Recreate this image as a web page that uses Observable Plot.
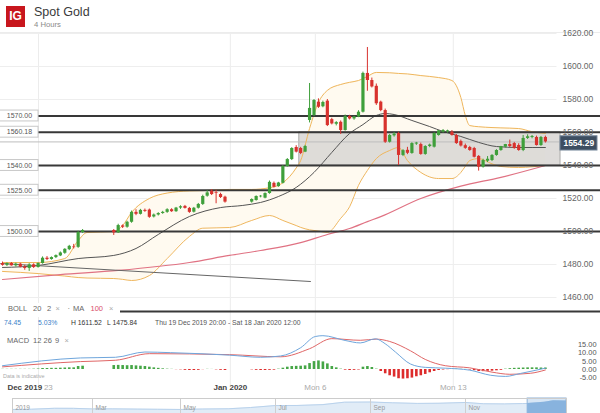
<!DOCTYPE html>
<html><head><meta charset="utf-8">
<script src="https://cdn.jsdelivr.net/npm/d3@7"></script>
<script src="https://cdn.jsdelivr.net/npm/@observablehq/plot@0.6"></script>
<style>
html,body{margin:0;padding:0;background:#fff;}
#root{position:relative;width:600px;height:413px;overflow:hidden;font-family:"Liberation Sans",Arial,sans-serif;}
#root svg{position:absolute;left:0;background:transparent;}
.t{position:absolute;white-space:nowrap;line-height:1;}
</style></head>
<body><div id="root"></div>
<script>
// ---------- DATA ----------
// trading sessions as 4-hour slot ranges (gaps = holidays)
const sessions = [[0,18],[25,50],[56,122]];
const open = [1480.5,1479.5,1480.6,1479.2,1480.2,1478.4,1477.6,1479.8,1478.2,1480.6,1483.8,1483,1484.2,1485.2,1486.8,1489,1490.6,1490.4,1499.4,
 1500.6,1499.2,1503.4,1502.6,1505.6,1511.6,1510.4,1512.8,1513,1508.8,1510,1510.9,1511.6,1513.2,1512,1514.2,1515.2,1514,1511.7,1514.1,1516.4,1521.4,1524.4,1523.6,1522.4,1520.8,
 1517.8,1518.8,1521,1520.2,1523,1529.2,1527.2,1529.2,1539.4,1543.6,1550.9,1550.3,1548.1,1567.3,1570.3,1578.4,1575.6,1579,1567.8,1565,1566.2,1561.2,1569.7,1568.2,1569.4,1572.3,1595.8,1591.5,1588,1578.4,1573.3,1554.1,1558,1559.4,1546.1,1549.2,1547.3,1553,1552.7,1546.7,1551.5,1551.1,1558.2,1560.2,1560.4,1560.2,1558.2,1554.5,1552,1550.9,1550.3,1545.5,1539,1542.6,1543,1546.1,1549.1,1551.1,1552.7,1553.3,1552.1,1549.1,1556.4,1557,1557,1552.1,1557];
const high = [1481.5,1481,1481.2,1480.8,1480.8,1479.5,1480.5,1480.4,1481,1484.6,1484.8,1484.6,1485.8,1487.6,1489.6,1491.6,1492.2,1500.2,1501.2,
 1501.2,1504.4,1504,1506.2,1512.4,1513.2,1513.4,1513.6,1513.6,1510.6,1511.4,1512.2,1513.8,1513.8,1514.6,1515.6,1515.8,1514.6,1514.6,1517,1522,1524.8,1525.4,1525,1523.2,1521.4,
 1519.8,1521.6,1521.8,1523.4,1530.6,1530,1529.8,1540,1544.2,1550.8,1552,1551,1552.2,1589.7,1580,1580.4,1579,1580,1568.6,1566.6,1567,1570.6,1570.4,1569.8,1573.2,1596.6,1611.52,1593,1589.4,1579,1574.2,1558.8,1560,1560.2,1549.6,1551,1553.8,1554,1553.6,1552,1553,1559.8,1561.2,1561.8,1561.4,1561.2,1558.8,1555.4,1553,1551.6,1551,1546,1543.8,1545.4,1546.6,1549.6,1551.6,1552.8,1555.4,1554,1553.2,1558.2,1558.6,1558.2,1557.8,1557.6,1557.8];
const low = [1479,1478.8,1479,1478.5,1478,1476.5,1475.84,1477.6,1477.8,1480.2,1482.4,1482.6,1483.6,1484.8,1486.2,1488.4,1489.4,1489.8,1498.8,
 1497.6,1498.8,1501.8,1502,1505,1509.6,1510,1511.6,1508,1508.2,1509.4,1510.4,1511,1511.6,1511.6,1513.4,1513.6,1511,1511.2,1513.6,1515.8,1520.8,1521.8,1516.8,1520,1517.2,
 1517.2,1518.4,1520.4,1519.8,1522.6,1526.4,1526.8,1528.8,1539,1543,1547.6,1546.6,1547.8,1565.8,1569.6,1574.6,1575,1563.6,1564.6,1564,1558.8,1560.8,1567.6,1567.4,1569,1571.8,1585,1587,1576.4,1572.6,1553.4,1553.6,1557.2,1540,1545.4,1546.6,1546.8,1552.2,1546.2,1546.2,1550.8,1550.6,1557.8,1559.6,1559.6,1557.8,1552.8,1551.2,1549.8,1548.6,1544.6,1536.6,1538.4,1541.8,1542.4,1545.6,1548.6,1550.6,1550.8,1549.8,1548.6,1548.4,1555.8,1556.2,1551.8,1551.6,1553.6];
const close = [1479.5,1480.6,1479.2,1480.2,1478.4,1477.6,1479.8,1478.2,1480.6,1483.8,1483,1484.2,1485.4,1487,1489.2,1491,1490.2,1499.4,1500.6,
 1499.2,1503.6,1502.6,1505.6,1511.6,1510.4,1512.8,1512.2,1508.6,1510,1510.9,1511.6,1513.2,1512,1514.2,1515,1514,1511.6,1514.1,1516.4,1521.2,1523.4,1522.4,1523.2,1520.6,1517.8,
 1519.4,1521.2,1521.4,1523,1529.8,1526.8,1529.4,1539.4,1543.6,1550.3,1548.1,1547.3,1551.5,1574.6,1579.4,1575.3,1578.2,1564.2,1565.2,1566,1561.2,1569.7,1568.2,1569.4,1572.3,1595.8,1591.5,1587.6,1577.4,1573.3,1554.1,1558.2,1559,1546.1,1549,1547.4,1553.3,1553.6,1546.7,1551.5,1552.4,1559.4,1561,1561.2,1561,1558.2,1553.3,1551.8,1550.4,1549.1,1545,1539,1543,1543.8,1546.1,1549.1,1551.5,1552.7,1551.5,1550.3,1549.1,1556.4,1557.4,1557.6,1552.1,1557,1554.29];
const macdHist = [0.1,0.1,0.1,0.1,0.1,0.1,0.1,0.2,0.3,0.6,0.6,0.7,0.7,0.8,0.9,1.0,1.0,1.8,2.0,
 2.4,2.5,2.4,2.3,2.4,2.2,2.0,1.8,1.4,1.0,0.7,0.4,0.2,0.1,-0.1,-0.2,-0.5,-0.6,-0.6,-0.5,-0.1,0.1,0.05,-0.2,-0.5,-0.6,
 -0.2,-0.5,-0.6,-0.6,-0.5,-0.4,0.2,0.8,1.4,1.8,1.9,2.0,2.2,3.6,4.8,5.2,4.6,3.4,1.8,1.0,0.2,-0.4,-0.6,-0.5,-0.3,1.4,1.8,1.2,0.2,-1.2,-2.6,-3.8,-4.6,-5.6,-5.8,-5.6,-5.2,-4.4,-3.8,-3.0,-2.0,-1.2,-0.6,-0.3,-0.1,0.1,0.2,0.1,0.05,-0.3,-0.7,-1.2,-1.3,-1.1,-1.0,-0.8,-0.5,0.2,0.5,0.7,0.8,0.9,1.0,1.0,1.0,0.9,0.9];

// Bollinger (20,2)
const bbSlot  = [0,8,14,17,19,25,27,29,33,37,42,45,51,56,60,63,66,67,69,71,73,76,78,80,82,84,87,89,91,94,98,101,103,104,105,107,110,112,116,119,122];
const bbUpper = [1481.2,1481.2,1483.6,1494.5,1499.4,1500,1503.6,1511.5,1520,1523.3,1524.6,1524.8,1525.5,1525.5,1526.5,1529.5,1538.5,1543,1562.4,1578.2,1585.5,1589.1,1590.4,1591.5,1594,1596.4,1596.2,1595.8,1595.5,1594.5,1593.3,1591.5,1581.2,1570.3,1564.2,1563.5,1563,1562.8,1562.4,1560.5,1559.4];
const bbLower = [1475.8,1474.5,1473,1472.1,1471.8,1471.5,1471,1470.3,1473.3,1483.6,1497,1502,1502.4,1506.7,1509.7,1506.7,1503.6,1502.5,1501,1500.3,1499.4,1508,1515,1528,1537,1544.2,1549.1,1550.9,1543,1535.8,1532.1,1532.1,1535.8,1539.5,1543,1544.2,1541,1539.4,1538.8,1539.2,1540];
const midSlot = [0,8,17,25,30,35,42,49,54,58,62,66,70,74,78,81,84,86,88,92,96,99,103,107,111,116,122];
const bbMid   = [1478.2,1479.4,1483.6,1485.5,1489.7,1498.2,1509.1,1514.5,1515.8,1517.6,1521.2,1526.7,1535.8,1547.9,1559.4,1564.8,1570.3,1571.5,1570.9,1567.3,1563.6,1560.6,1557.6,1554,1551.5,1550.9,1550.9];
// MA 100
const maSlot = [0,13,26,42,51,58,67,73,78,82,85,94,103,112,122];
const ma100  = [1470.9,1473.9,1476.4,1481.2,1485.5,1488.5,1493.3,1498.2,1501.8,1506,1509,1520,1527.5,1532.8,1540];
// drawn trend line
const trendSlot = [-0.4, 69.2];
const trendPrice = [1480.6, 1469.7];
// horizontal drawings
const levels = [1570, 1560.18, 1540, 1525, 1500];
const bottomLevel = 1451.5;
const zoneLow = 1540, zoneHigh = 1560.18;
const lastPrice = 1554.29;
const priceTicks = [1460,1480,1500,1520,1540,1560,1580,1600,1620];
// time axis
const timeGrid = [8.1, 51.2, 70.3, 101.3];
const timeLabelSlot = [1.1, 10.3, 51.2, 70.3, 101.3];
const timeLabelText = ["Dec 2019","23","Jan 2020","Mon 6","Mon 13"];
const timeLabelMajor = [true,false,true,false,false];
// MACD (12,26,9)
const macdSlot = [0,17.5,25.4,32,37.8,51,58,62.5,67,70.3,72,77,80.4,83.8,86,88.3,91.7,95,99.5,105,109.7,113,116.4,122];
const macdLine = [2.3,7,7.4,10.6,10.2,8.7,7.4,8.2,13.2,20,20.5,17.6,16.1,18.6,15.6,10.6,3.3,1.3,0.8,-0.4,-3.5,-4.2,-2.4,0.8];
const sigSlot = [0,17.5,25.4,33,51,62.5,69,74,80.4,84,87,91.7,95,99.5,105,110,114,118.6,122];
const sigLine = [1.6,4.8,5.6,9.6,9,7.7,12.6,18.7,17.7,18.4,17,11.3,6.1,2.3,1,-1.6,-2.9,-2.3,-0.3];
const macdTicks = [15,10,5,0,-5];
// navigator (2019 history)
const navDate = ["2019-01-01","2019-01-15","2019-02-01","2019-02-15","2019-03-01","2019-03-15","2019-04-01","2019-04-15","2019-05-01","2019-05-15","2019-06-01","2019-06-15","2019-07-01","2019-07-15","2019-08-01","2019-08-15","2019-09-01","2019-09-15","2019-10-01","2019-10-15","2019-11-01","2019-11-15","2019-12-01","2019-12-15","2019-12-19","2020-01-01","2020-01-08","2020-01-18"];
const navPrice = [1282,1290,1320,1318,1300,1302,1293,1288,1282,1296,1305,1345,1410,1412,1440,1520,1525,1500,1480,1485,1510,1468,1463,1475,1478,1520,1570,1556];
const navMonthDate = ["2019-01-01","2019-03-01","2019-05-01","2019-07-01","2019-09-01","2019-11-01"];
const navMonthText = ["2019","Mar","May","Jul","Sep","Nov"];
const navWindow = ["2019-12-19","2020-01-18"];

// ---------- LAYOUT / STYLE ----------
const FONT = '"Liberation Sans", Arial, sans-serif';
const GREEN = "#3f9f3b", RED = "#d8322e";
const X = {domain:[0,122], range:[2,544.9]};
const L = {xLo:-1, gridEnd:124.6, labelBoxEnd:8.1, labelCenter:3.8, zoneStart:66.7, zoneEnd:125.4, tagStart:125.4, tagEnd:133.7, tagCenter:129.5};

const slot = sessions.flatMap(([a,b]) => d3.range(a, b+1));
const candles = slot.map((s,i) => ({s, o:open[i], h:high[i], l:low[i], c:close[i], m:macdHist[i]}));
const bb = bbSlot.map((s,i) => ({s, hi:bbUpper[i], lo:bbLower[i]}));
const mid = midSlot.map((s,i) => ({s, v:bbMid[i]}));
const ma = maSlot.map((s,i) => ({s, v:ma100[i]}));
const trend = trendSlot.map((s,i) => ({s, v:trendPrice[i]}));
const macd = macdSlot.map((s,i) => ({s, v:macdLine[i]}));
const sig = sigSlot.map((s,i) => ({s, v:sigLine[i]}));
const tl = timeLabelSlot.map((s,i) => ({s, t:timeLabelText[i], major:timeLabelMajor[i]}));
const nav = navDate.map((d,i) => ({d:new Date(d), p:navPrice[i]}));
const navM = navMonthDate.map((d,i) => ({d:new Date(d), t:navMonthText[i]}));
const win = {a:new Date(navWindow[0]), b:new Date(navWindow[1])};
const col = d => d.c >= d.o ? GREEN : RED;

const root = document.getElementById("root");
function put(svg, top){ svg.style.top = top + "px"; root.appendChild(svg); }
function txt(s, left, top, size, color, extra){
  const e = document.createElement("div"); e.className = "t"; e.textContent = s;
  Object.assign(e.style, {left:left+"px", top:top+"px", fontSize:size+"px", color}, extra||{});
  root.appendChild(e); return e;
}

// header separator (drawn first, under the panes)
const hdr = document.createElement("div");
Object.assign(hdr.style, {position:"absolute", left:"0", top:"0", width:"600px", height:"32px", borderBottom:"1px solid #ececec"});
root.appendChild(hdr);

// ---------- PRICE PANE ----------
put(Plot.plot({
  width:600, height:330, marginLeft:0, marginRight:0, marginTop:32, marginBottom:0,
  style:{fontFamily:FONT, background:"transparent"},
  x:{...X, axis:null},
  y:{domain:[1460,1620], range:[297,33]},
  marks:[
    Plot.ruleX(timeGrid, {stroke:"#ececec"}),
    Plot.ruleY(priceTicks, {x1:L.xLo, x2:L.gridEnd, stroke:"#eeeeee"}),
    Plot.areaY(bb, {x:"s", y1:"lo", y2:"hi", fill:"#fffaf0", curve:"monotone-x"}),
    Plot.rect([0], {x1:L.zoneStart, x2:L.zoneEnd, y1:zoneLow, y2:zoneHigh, fill:"#d8d6d4", fillOpacity:0.85, stroke:"#9a9a9a", strokeWidth:0.8}),
    Plot.ruleY([lastPrice], {x1:L.xLo, x2:L.zoneEnd, stroke:"#bdbdbd", strokeWidth:1}),
    Plot.line(bb, {x:"s", y:"hi", stroke:"#efb65c", strokeWidth:1, curve:"monotone-x"}),
    Plot.line(bb, {x:"s", y:"lo", stroke:"#efb65c", strokeWidth:1, curve:"monotone-x"}),
    Plot.line(ma, {x:"s", y:"v", stroke:"#e07283", strokeWidth:1.2, curve:"monotone-x"}),
    Plot.line(mid, {x:"s", y:"v", stroke:"#555", strokeWidth:1, curve:"monotone-x"}),
    Plot.line(trend, {x:"s", y:"v", stroke:"#666", strokeWidth:1}),
    Plot.ruleY([...levels, bottomLevel], {stroke:"#383838", strokeWidth:2}),
    Plot.ruleX(candles, {x:"s", y1:"l", y2:"h", stroke:col, strokeWidth:1}),
    Plot.ruleX(candles, {x:"s", y1:"o", y2:"c", stroke:col, strokeWidth:3.2}),
    Plot.rect(levels, {x1:L.xLo, x2:L.labelBoxEnd, y1:d=>d-3.3, y2:d=>d+3.3, fill:"white", stroke:"#c8c8c8"}),
    Plot.text(levels, {x:L.labelCenter, y:d=>d, text:d=>d.toFixed(2), fontSize:7, fill:"#555"}),
    Plot.rect([lastPrice], {x1:L.tagStart, x2:L.tagEnd, y1:d=>d-5.2, y2:d=>d+3.4, fill:"#3d4e61", stroke:"#6f8195"}),
    Plot.text([lastPrice], {x:L.tagCenter, y:d=>d-0.9, text:d=>d.toFixed(2), fontSize:8.5, fontWeight:"bold", fill:"white"}),
    Plot.axisY(priceTicks, {anchor:"right", tickSize:0, tickPadding:0, dx:-38, textAnchor:"start", tickFormat:d=>d.toFixed(2), fontSize:8.5, fill:"#666"})
  ]
}), 0);

// ---------- MACD PANE ----------
put(Plot.plot({
  width:600, height:56, marginLeft:0, marginRight:0, marginTop:0, marginBottom:0,
  style:{fontFamily:FONT, background:"transparent"},
  x:{...X, axis:null},
  y:{domain:[-5,15], range:[47.25,14.25]},
  marks:[
    Plot.ruleX(timeGrid, {stroke:"#ececec"}),
    Plot.ruleX(candles, {x:"s", y1:0, y2:"m", stroke:d=>d.m>=0?"#45a646":"#dd2c2c", strokeWidth:2.6}),
    Plot.line(sig, {x:"s", y:"v", stroke:"#e06666", strokeWidth:1, curve:"monotone-x"}),
    Plot.line(macd, {x:"s", y:"v", stroke:"#6fa6dc", strokeWidth:1, curve:"monotone-x"}),
    Plot.axisY(macdTicks, {anchor:"right", tickSize:0, tickPadding:0, dx:-4, textAnchor:"end", tickFormat:d=>d.toFixed(2), fontSize:7.4, fill:"#555"})
  ]
}), 330);

// ---------- TIME AXIS ----------
put(Plot.plot({
  width:600, height:14, marginLeft:0, marginRight:0, marginTop:0, marginBottom:0,
  style:{fontFamily:FONT, background:"transparent"},
  x:{...X, axis:null},
  marks:[
    Plot.text(tl.filter(d=>d.t==="Dec 2019"), {x:"s", text:"t", textAnchor:"start", fontSize:8, fontWeight:"bold", fill:"#444"}),
    Plot.text(tl.filter(d=>d.major && d.t!=="Dec 2019"), {x:"s", text:"t", fontSize:8, fontWeight:"bold", fill:"#444"}),
    Plot.text(tl.filter(d=>!d.major), {x:"s", text:"t", fontSize:8, fill:"#aaa"})
  ]
}), 380);

// ---------- NAVIGATOR ----------
put(Plot.plot({
  width:600, height:16, marginLeft:12, marginRight:34, marginTop:1, marginBottom:0,
  style:{fontFamily:FONT, background:"transparent"},
  x:{type:"utc", domain:[...navMonthDate.map(d=>new Date(d)), win.b], range:[12,92,180,275,370,465,566], axis:null},
  y:{domain:[1150,1640], range:[16,1], axis:null},
  marks:[
    Plot.areaY(nav, {x:"d", y:"p", fill:"#e1ecf7", clip:true}),
    Plot.line(nav, {x:"d", y:"p", stroke:"#b9d2ec", strokeWidth:1}),
    Plot.rect([win], {x1:"a", x2:"b", fill:"#bcd5ee", fillOpacity:0.6, stroke:"#8eb2d8"}),
    Plot.areaY(nav.filter(d=>d.d>=win.a), {x:"d", y:"p", fill:"#88b3de", clip:true}),
    Plot.ruleX(navM.slice(1), {x:"d", stroke:"#cfcfcf"}),
    Plot.text(navM, {x:"d", text:"t", dx:3, dy:1.5, textAnchor:"start", fontSize:6.5, fill:"#999"}),
    Plot.frame({stroke:"#cccccc"})
  ]
}), 397);

// ---------- HTML TEXT / HEADER ----------
txt("IG", 6, 6, 12, "white", {width:"19px", height:"21px", lineHeight:"21px", textAlign:"center", background:"#c8161d", fontWeight:"bold"});
txt("Spot Gold", 34, 5.5, 12.5, "#3a3a3a");
txt("4 Hours", 34, 20.5, 7.7, "#8a8a8a");

// legend rows
const bg = document.createElement("div");
Object.assign(bg.style, {position:"absolute", left:"0", top:"303px", width:"120px", height:"14px", background:"white"});
root.appendChild(bg);
const r1 = 305.2, c1 = "#666";
txt("BOLL", 8, r1, 7.5, c1); txt("20", 33, r1, 7.5, c1); txt("2", 47, r1, 7.5, c1);
txt("×", 55.5, r1, 7.5, "#aaa"); txt("·", 67.5, r1, 7.5, "#666");
txt("MA", 73, r1, 7.5, c1); txt("100", 90.5, r1, 7.5, "#d9506a"); txt("×", 109, r1, 7.5, "#aaa");
const r2 = 319.6;
txt("74.45", 4, r2, 6.8, "#3d7fc9"); txt("5.03%", 38, r2, 6.8, "#3d7fc9");
txt("H 1611.52", 71, r2, 6.8, "#333"); txt("L 1475.84", 107, r2, 6.8, "#333");
txt("Thu 19 Dec 2019 20:00 - Sat 18 Jan 2020 12:00", 155, r2, 6.8, "#555");
const r3 = 337.2;
txt("MACD", 7, r3, 7.5, c1); txt("12", 33, r3, 7.5, c1); txt("26", 43.5, r3, 7.5, c1); txt("9", 55, r3, 7.5, c1); txt("×", 64.5, r3, 7.5, "#aaa");
txt("Data is indicative", 3, 374, 5.5, "#aaa");
</script>
</body></html>
